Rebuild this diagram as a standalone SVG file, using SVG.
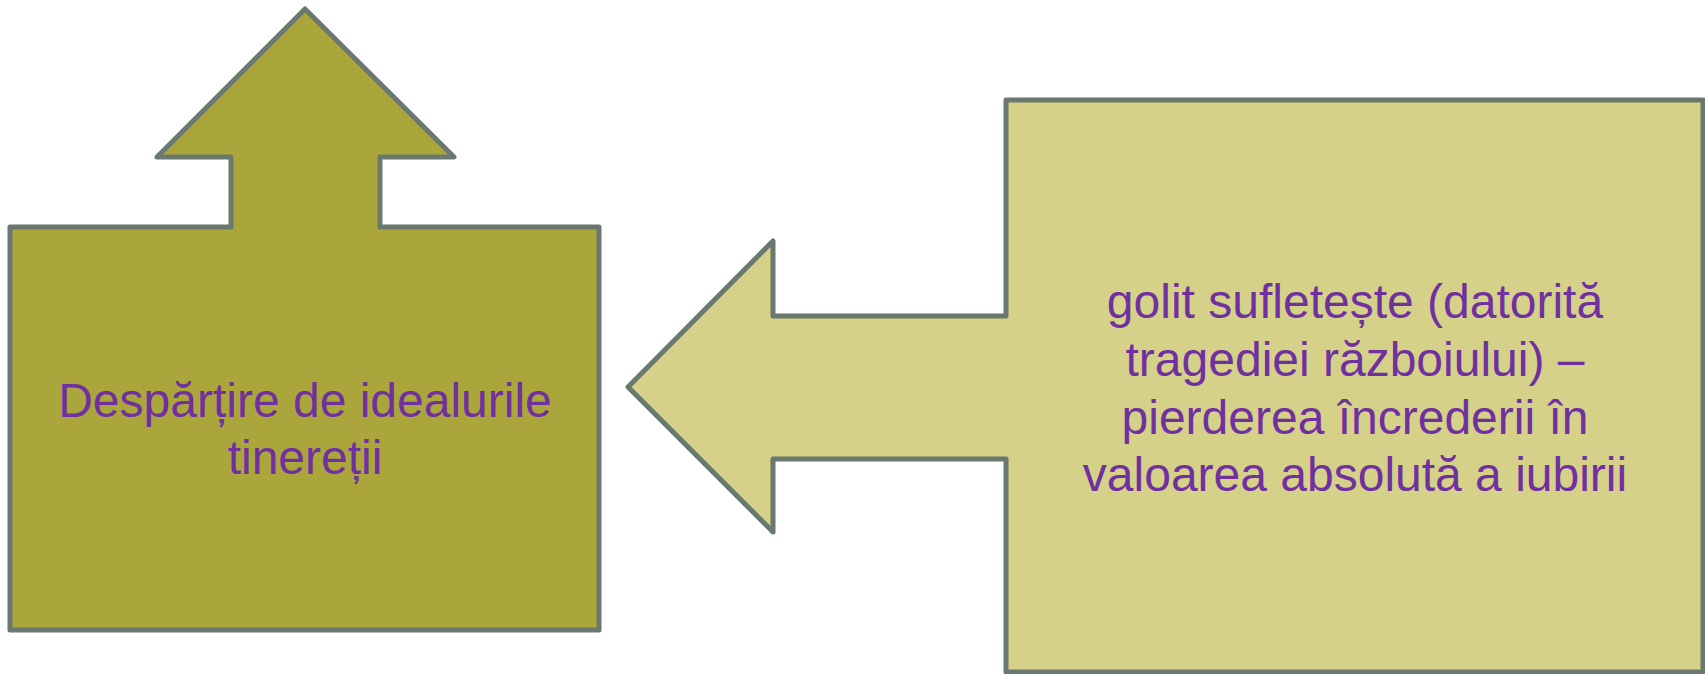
<svg xmlns="http://www.w3.org/2000/svg" width="1705" height="674" viewBox="0 0 1705 674">
<style>
.shape{stroke:#6b786f;stroke-width:5;stroke-linejoin:round}
.dark{fill:#aba63b}
.light{fill:#d5d188}
.lbl{font-family:"Liberation Sans",Arial,sans-serif;font-size:48px;fill:#7030a0;text-anchor:middle}
</style>
<rect width="1705" height="674" fill="#ffffff"/>
<g id="connectors"/>
<g id="node-left">
<path class="shape dark" d="M10,227 L231,227 L231,157 L157,157 L305,9 L454,157 L380,157 L380,227 L599,227 L599,630 L10,630 Z"/>
<text class="lbl" x="305" y="417">Despărțire de idealurile</text>
<text class="lbl" x="305" y="474">tinereții</text>
</g>
<g id="node-right">
<path class="shape light" d="M1006,100 L1703,100 L1703,672 L1006,672 L1006,459 L773,459 L773,532 L628,387 L773,241 L773,316 L1006,316 Z"/>
<text class="lbl" x="1355" y="318">golit sufletește (datorită</text>
<text class="lbl" x="1355" y="376">tragediei războiului) –</text>
<text class="lbl" x="1355" y="434">pierderea încrederii în</text>
<text class="lbl" x="1355" y="491">valoarea absolută a iubirii</text>
</g>
</svg>
